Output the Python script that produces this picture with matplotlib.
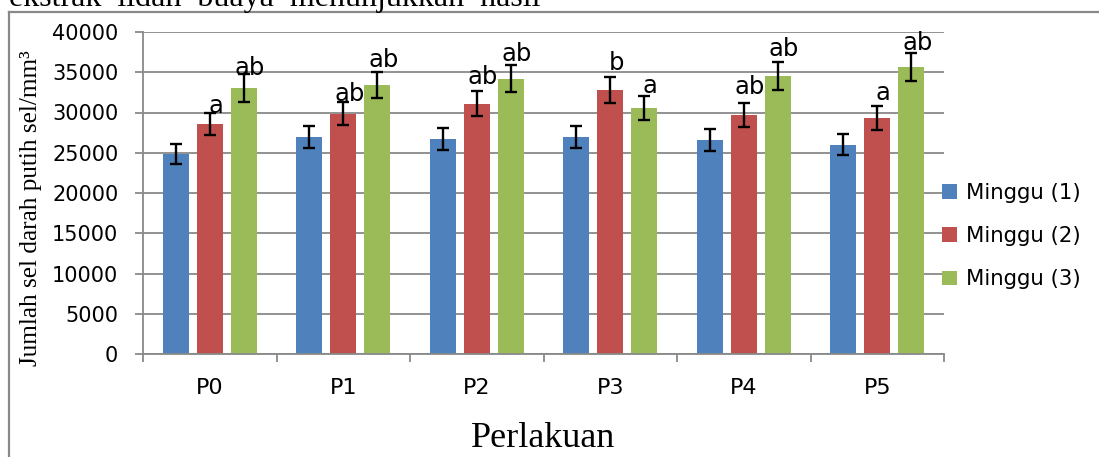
import matplotlib
matplotlib.use("Agg")
import matplotlib.pyplot as plt
from matplotlib.lines import Line2D
import numpy as np

# ---- data ----
categories = ["P0", "P1", "P2", "P3", "P4", "P5"]
series_names = ["Minggu (1)", "Minggu (2)", "Minggu (3)"]
minggu1 = [24800, 27000, 26700, 27000, 26600, 26000]
minggu2 = [28600, 29850, 31100, 32750, 29700, 29300]
minggu3 = [33050, 33400, 34200, 30600, 34550, 35650]
err1 = [1250, 1350, 1350, 1350, 1350, 1300]
err2 = [1400, 1450, 1550, 1600, 1450, 1450]
err3 = [1700, 1650, 1700, 1500, 1700, 1750]
labels2 = ["a", "ab", "ab", "b", "ab", "a"]
labels3 = ["ab", "ab", "ab", "a", "ab", "ab"]
yticks = [0, 5000, 10000, 15000, 20000, 25000, 30000, 35000, 40000]

# ---- style ----
colors = ["#4F81BD", "#C0504D", "#9BBB59"]
grid_col = "#898989"
lift2 = [11, 13, 20, 20, 21, 18]   # label lift above bar top (px)
lift3 = [13, 18, 18, 15, 20, 17]

W, H = 1099, 457
fig = plt.figure(figsize=(W / 100, H / 100), dpi=100)
ax = fig.add_axes([143 / W, 1 - 354 / H, (944 - 143) / W, (354 - 32) / H])

x = np.arange(len(categories))
width = 0.195
step = 0.255
series = [minggu1, minggu2, minggu3]
errs = [err1, err2, err3]
for i, (vals, e, c) in enumerate(zip(series, errs, colors)):
    xi = x + (i - 1) * step
    ax.bar(xi, vals, width, color=c, label=series_names[i], zorder=2)
    ax.errorbar(xi, vals, yerr=e, fmt="none", ecolor="black", elinewidth=1.7,
                capsize=4.5, capthick=1.7, zorder=3)

px = 0.72
for i in range(len(categories)):
    ax.annotate(labels2[i], xy=(x[i], minggu2[i]), xytext=(6 * px, lift2[i] * px),
                textcoords="offset points", ha="center", va="baseline",
                fontsize=17.5, zorder=4)
    ax.annotate(labels3[i], xy=(x[i] + step, minggu3[i]), xytext=(6 * px, lift3[i] * px),
                textcoords="offset points", ha="center", va="baseline",
                fontsize=17.5, zorder=4)

ax.set_xlim(-0.5, len(categories) - 0.5)
ax.set_ylim(0, 40000)
ax.set_yticks(yticks)
ax.set_yticklabels([str(v) for v in yticks])
ax.yaxis.grid(True, color=grid_col, lw=1.3, zorder=0)
ax.set_axisbelow(True)

ax.set_xticks(np.arange(-0.5, len(categories), 1.0))
ax.set_xticklabels([])
ax.set_xticks(x, minor=True)
ax.set_xticklabels(categories, minor=True)
ax.tick_params(axis="x", which="major", length=5.8, width=1.3, color=grid_col, direction="out")
ax.tick_params(axis="x", which="minor", length=0, pad=17, labelsize=16)
ax.tick_params(axis="y", length=5.8, width=1.3, color=grid_col, pad=12, labelsize=15)

for s in ["top", "right"]:
    ax.spines[s].set_visible(False)
for s in ["left", "bottom"]:
    ax.spines[s].set_color(grid_col)
    ax.spines[s].set_linewidth(1.3)

ax.legend(loc="center left", bbox_to_anchor=(942 / W, 1 - 236 / H),
          bbox_transform=fig.transFigure, frameon=False, fontsize=15.3,
          handlelength=0.7, handleheight=0.7, handletextpad=0.45,
          labelspacing=1.1, borderpad=0, borderaxespad=0)

serif = "Liberation Serif"
fig.text(31 / W, 1 - 208 / H, "Jumlah sel darah putih sel/mm³", rotation=90,
         ha="center", va="center", family=serif, fontsize=18.2)
fig.text(543 / W, 1 - 446.7 / H, "Perlakuan", ha="center", va="baseline",
         family=serif, fontsize=26)
fig.text(9 / W, 1 - 6 / H, "ekstrak  lidah  buaya  menunjukkan  hasil",
         ha="left", va="baseline", family=serif, fontsize=23)

# frame around chart
fig.add_artist(Line2D([8.5 / W, 8.5 / W], [0, 1 - 11.5 / H], transform=fig.transFigure,
                      color=grid_col, lw=1.6))
fig.add_artist(Line2D([8.5 / W, 1], [1 - 11.5 / H, 1 - 11.5 / H], transform=fig.transFigure,
                      color=grid_col, lw=1.6))

fig.savefig("out.png", dpi=100)
